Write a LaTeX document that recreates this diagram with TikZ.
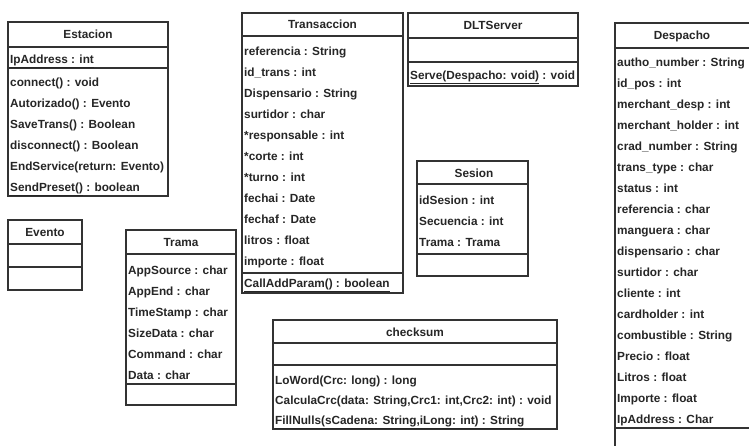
\documentclass[tikz,border=0pt]{standalone}
\usepackage{fontspec}
\setmainfont{Liberation Sans}
\definecolor{ink}{HTML}{262626}
\definecolor{frame}{HTML}{333333}
\tikzset{
  box/.style={draw=frame, line width=1.4pt},
  sep/.style={draw=frame, line width=1.4pt},
  row/.style={anchor=west, inner sep=0pt, text height=9pt, text depth=3pt,
              font=\bfseries\fontsize{11.8}{13}\selectfont, text=ink},
  title/.style={anchor=center, inner sep=0pt, text height=9pt, text depth=3pt,
              font=\bfseries\fontsize{11.8}{13}\selectfont, text=ink}
}
\begin{document}
\begin{tikzpicture}[x=1pt,y=-1pt]
\useasboundingbox (0,0) rectangle (749,445);
\fill[white] (0,0) rectangle (749,445);
\clip (0,0) rectangle (749,445);

% ---- Estacion
\draw[box] (8,22) rectangle (168,196);
\draw[sep] (8,47) -- (168,47);
\draw[sep] (8,68) -- (168,68);
\node[title] (est-t) at (88,35) {Estacion};
\node[row] (est-a) at (10,60) {\underline{IpAddress : int}};
\foreach \t [count=\i] in {connect() : void, Autorizado() : Evento,
    SaveTrans() : Boolean, disconnect() : Boolean,
    EndService(return: Evento), {\underline{SendPreset()} : boolean}}
  \node[row] (est-\i) at (10,62+21*\i) {\t};

% ---- Evento
\draw[box] (8,220) rectangle (82,290);
\draw[sep] (8,244) -- (82,244);
\draw[sep] (8,267) -- (82,267);
\node[title] (evt-t) at (45,233) {Evento};

% ---- Trama
\draw[box] (126,230) rectangle (236,405);
\draw[sep] (126,254) -- (236,254);
\draw[sep] (126,384) -- (236,384);
\node[title] (trm-t) at (181,243) {Trama};
\foreach \t [count=\i] in {AppSource : char, AppEnd : char, TimeStamp : char,
    SizeData : char, Command : char, Data : char}
  \node[row] (trm-\i) at (128,250+21*\i) {\t};

% ---- Transaccion
\draw[box] (242,13) rectangle (403,293);
\draw[sep] (242,36) -- (403,36);
\draw[sep] (242,273) -- (403,273);
\node[title] (trn-t) at (322.5,25) {Transaccion};
\foreach \t [count=\i] in {referencia : String, id\_trans : int,
    Dispensario : String, surtidor : char, *responsable : int, *corte : int,
    *turno : int, fechai : Date, fechaf : Date, litros : float, importe : float}
  \node[row] (trn-\i) at (244,31+21*\i) {\t};
\node[row] (trn-m) at (244,284) {\underline{CallAddParam() : boolean}};

% ---- DLTServer
\draw[box] (408,13) rectangle (578,86);
\draw[sep] (408,38) -- (578,38);
\draw[sep] (408,62) -- (578,62);
\node[title] (dlt-t) at (493,26) {DLTServer};
\node[row] (dlt-m) at (410,76) {\underline{Serve(Despacho: void)} : void};

% ---- Sesion
\draw[box] (417,161) rectangle (528,276);
\draw[sep] (417,184) -- (528,184);
\draw[sep] (417,254) -- (528,254);
\node[title] (ses-t) at (474,174) {Sesion};
\foreach \t [count=\i] in {idSesion : int, Secuencia : int, Trama : Trama}
  \node[row] (ses-\i) at (419,180+21*\i) {\t};

% ---- checksum
\draw[box] (273,320) rectangle (557,429);
\draw[sep] (273,343) -- (557,343);
\draw[sep] (273,365) -- (557,365);
\node[title] (chk-t) at (415,333) {checksum};
\foreach \t [count=\i] in {LoWord(Crc: long) : long,
    {CalculaCrc(data: String,Crc1: int,Crc2: int) : void},
    {\underline{FillNulls(sCadena: String,iLong: int) : String}}}
  \node[row] (chk-\i) at (275,361+20*\i) {\t};

% ---- Despacho (runs past the right and bottom edges)
\draw[box] (615,23) rectangle (790,480);
\draw[sep] (615,48) -- (790,48);
\draw[sep] (615,428) -- (790,428);
\node[title] (dsp-t) at (682,36) {Despacho};
\foreach \t [count=\i] in {autho\_number : String, id\_pos : int,
    merchant\_desp : int, merchant\_holder : int, crad\_number : String,
    trans\_type : char, status : int, referencia : char, manguera : char,
    dispensario : char, surtidor : char, cliente : int, cardholder : int,
    combustible : String, Precio : float, Litros : float, Importe : float,
    IpAddress : Char}
  \node[row] (dsp-\i) at (617,42+21*\i) {\t};
\end{tikzpicture}
\end{document}
